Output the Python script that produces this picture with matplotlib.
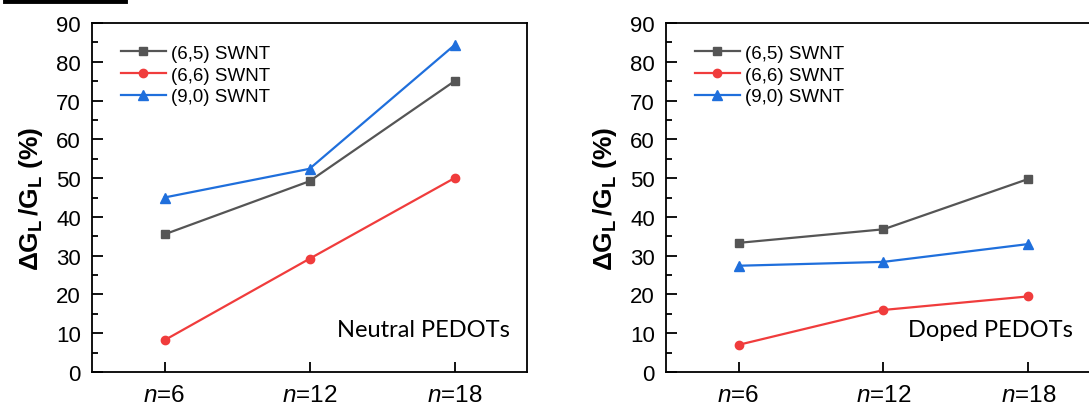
import matplotlib
matplotlib.use('Agg')
import matplotlib.pyplot as plt
from matplotlib.lines import Line2D

plt.rcParams['font.family'] = ['Liberation Sans', 'DejaVu Sans']
plt.rcParams['mathtext.fontset'] = 'custom'
plt.rcParams['mathtext.rm'] = 'Liberation Sans'
plt.rcParams['mathtext.it'] = 'Liberation Sans:italic'
plt.rcParams['mathtext.bf'] = 'Liberation Sans:bold'

# data
n_labels = [r'$n$=6', r'$n$=12', r'$n$=18']
series_names = ['(6,5) SWNT', '(6,6) SWNT', '(9,0) SWNT']

neutral_65 = [35.5, 49.2, 75.0]
neutral_66 = [8.2, 29.2, 50.0]
neutral_90 = [45.0, 52.4, 84.3]

doped_65 = [33.3, 36.8, 49.8]
doped_66 = [7.0, 16.0, 19.5]
doped_90 = [27.4, 28.4, 33.0]

colors = ['#555555', '#f03c3c', '#1f6fdc']
markers = ['s', 'o', '^']
msizes = [5.5, 6, 7]

fig = plt.figure(figsize=(10.89, 4.10), dpi=100)
ax1 = fig.add_axes([92 / 1089, 37 / 410, 435 / 1089, 349 / 410])
ax2 = fig.add_axes([666 / 1089, 37 / 410, 435 / 1089, 349 / 410])

# cropped bar at top-left of the original figure
fig.add_artist(Line2D([5 / 1089, 125 / 1089], [408 / 410, 408 / 410],
                      color='black', lw=3.5, transform=fig.transFigure))

panels = [
    (ax1, [neutral_65, neutral_66, neutral_90], 'Neutral PEDOTs', 0.961),
    (ax2, [doped_65, doped_66, doped_90], 'Doped PEDOTs', 0.936),
]

ylab = r'$\mathbf{\Delta G_{L}\,/G_{L}}$ (%)'

for ax, data, note, tx in panels:
    x = range(len(n_labels))
    for vals, name, c, m, ms in zip(data, series_names, colors, markers, msizes):
        ax.plot(x, vals, color=c, marker=m, markersize=ms, lw=1.6, label=name)
    ax.set_xlim(-0.5, 2.5)
    ax.set_ylim(0, 90)
    ax.set_xticks(list(x))
    ax.set_xticklabels(n_labels, fontsize=17.5)
    ax.set_yticks(range(0, 91, 10))
    ax.set_yticks(range(5, 90, 10), minor=True)
    ax.tick_params(axis='y', which='major', direction='in', length=8, width=1.3,
                   labelsize=16, pad=8)
    ax.tick_params(axis='y', which='minor', direction='in', length=4.5, width=1.3)
    ax.tick_params(axis='x', which='major', direction='in', length=7.5, width=1.3,
                   pad=9)
    for sp in ax.spines.values():
        sp.set_linewidth(1.3)
    ax.set_ylabel(ylab, fontsize=19, fontweight='bold', labelpad=8)
    ax.text(tx, 0.103, note, transform=ax.transAxes, ha='right', va='baseline',
            fontsize=17, family='Lato')
    ax.legend(loc='upper left', bbox_to_anchor=(0.04, 0.97), frameon=False,
              fontsize=13.5, handlelength=2.4, handletextpad=0.3,
              labelspacing=0.25, borderaxespad=0.2)

fig.savefig('out.png', dpi=100)
